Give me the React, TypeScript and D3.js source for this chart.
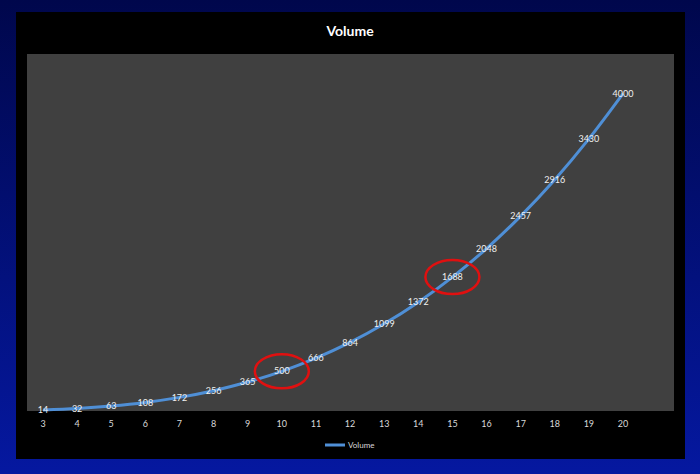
import React from "react";
import * as d3 from "d3";

const categories = [3, 4, 5, 6, 7, 8, 9, 10, 11, 12, 13, 14, 15, 16, 17, 18, 19, 20];
const volume = [14, 32, 63, 108, 172, 256, 365, 500, 666, 864, 1099, 1372, 1688, 2048, 2457, 2916, 3430, 4000];
const highlighted = [10, 15];
const seriesName = "Volume";
const title = "Volume";

const W = 700;
const H = 474;

export default function App() {
  const x = d3.scaleLinear().domain([3, 20]).range([43, 623]);
  const y = d3.scaleLinear().domain([0, 4500]).range([411, 54]);
  const pts = categories.map((c, i) => ({ c, v: volume[i] }));
  const line = d3
    .line<{ c: number; v: number }>()
    .x((d) => x(d.c))
    .y((d) => y(d.v))
    .curve(d3.curveCatmullRom.alpha(0.5));
  const font = "Lato, 'Open Sans', sans-serif";
  return (
    <svg width={W} height={H} style={{ position: "absolute", left: 0, top: 0 }}>
      <defs>
        <linearGradient id="bg" x1="0" y1="0" x2="0" y2="1">
          <stop offset="0" stopColor="#00074c" />
          <stop offset="1" stopColor="#0518a0" />
        </linearGradient>
      </defs>
      <rect x={0} y={0} width={W} height={H} fill="url(#bg)" />
      <rect x={16} y={12} width={669} height={447} fill="#000000" />
      <rect x={27} y={54} width={647} height={357} fill="#404040" />
      <text
        x={350}
        y={36}
        textAnchor="middle"
        fill="#ffffff"
        fontFamily={font}
        fontWeight="bold"
        fontSize={14}
      >
        {title}
      </text>
      <path d={line(pts) || ""} fill="none" stroke="#4f8fd6" strokeWidth={3} />
      {pts.map((d) => (
        <text
          key={d.c}
          x={x(d.c)}
          y={y(d.v)}
          dy="0.35em"
          textAnchor="middle"
          fill="#f0f0f0"
          fontFamily={font}
          fontSize={9}
        >
          {d.v}
        </text>
      ))}
      {categories.map((c) => (
        <text
          key={c}
          x={x(c)}
          y={424}
          dy="0.35em"
          textAnchor="middle"
          fill="#d9d9d9"
          fontFamily={font}
          fontSize={9}
        >
          {c}
        </text>
      ))}
      {highlighted.map((c) => {
        const v = volume[categories.indexOf(c)];
        return (
          <ellipse
            key={c}
            cx={x(c)}
            cy={y(v)}
            rx={27}
            ry={17}
            fill="none"
            stroke="#e01010"
            strokeWidth={2.5}
          />
        );
      })}
      <line x1={325} x2={345} y1={445} y2={445} stroke="#4f8fd6" strokeWidth={3} />
      <text x={348} y={445} dy="0.35em" fill="#d9d9d9" fontFamily={font} fontSize={8}>
        {seriesName}
      </text>
    </svg>
  );
}
